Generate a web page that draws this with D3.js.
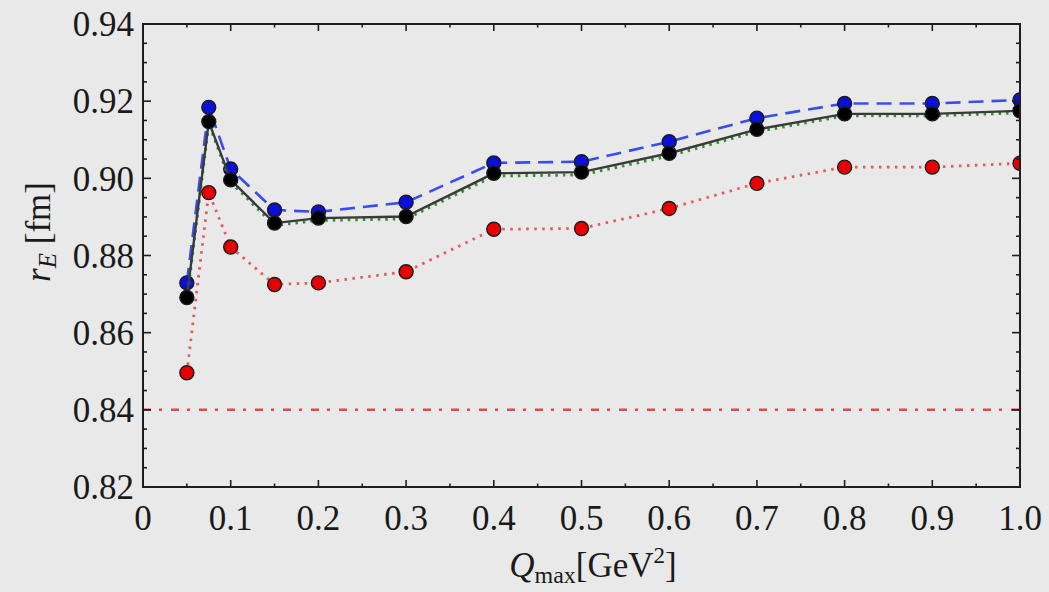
<!DOCTYPE html>
<html>
<head>
<meta charset="utf-8">
<script src="https://cdn.jsdelivr.net/npm/d3@7"></script>
<style>
  html, body { margin: 0; padding: 0; background: #e8e9e8; }
  svg { display: block; }
  .tick-label { font-family: "Liberation Serif", serif; font-size: 35px; fill: #1a1a1a; }
  .axis-title { font-family: "Liberation Serif", serif; font-size: 35px; fill: #1a1a1a; }
</style>
</head>
<body>
<div id="chart"></div>
<script>
// data
var qmax = [0.05, 0.075, 0.1, 0.15, 0.2, 0.3, 0.4, 0.5, 0.6, 0.7, 0.8, 0.9, 1.0];
var rBlue  = [0.8729, 0.9184, 0.9024, 0.8918, 0.8913, 0.8938, 0.9040, 0.9043, 0.9095, 0.9156, 0.9194, 0.9194, 0.9203];
var rBlack = [0.8691, 0.9147, 0.8996, 0.8884, 0.8897, 0.8901, 0.9013, 0.9016, 0.9065, 0.9127, 0.9167, 0.9167, 0.9175];
var rGreen = [0.8686, 0.9142, 0.8990, 0.8878, 0.8891, 0.8895, 0.9006, 0.9009, 0.9058, 0.9121, 0.9162, 0.9162, 0.9170];
var rRed   = [0.8496, 0.8963, 0.8822, 0.8725, 0.8729, 0.8758, 0.8868, 0.8870, 0.8922, 0.8987, 0.9029, 0.9029, 0.9039];
var protonRadius = 0.84;

var xTicks = [0, 0.1, 0.2, 0.3, 0.4, 0.5, 0.6, 0.7, 0.8, 0.9, 1.0];
var xMinor = [0.05, 0.15, 0.25, 0.35, 0.45, 0.55, 0.65, 0.75, 0.85, 0.95];
var yTicks = [0.82, 0.84, 0.86, 0.88, 0.90, 0.92, 0.94];
var yMinor = d3.range(0.82, 0.9401, 0.005);

// svg size
var svgWidth = 1049;
var svgHeight = 592;

var margin = { top: 24, right: 29, bottom: 105, left: 143 };
var width = svgWidth - margin.left - margin.right;
var height = svgHeight - margin.top - margin.bottom;

var svg = d3.select("#chart")
    .append("svg")
    .attr("width", svgWidth)
    .attr("height", svgHeight);

svg.append("rect")
    .attr("width", svgWidth)
    .attr("height", svgHeight)
    .attr("fill", "#e8e9e8");

var chartGroup = svg.append("g")
    .attr("transform", `translate(${margin.left}, ${margin.top})`);

// scales
var x = d3.scaleLinear().domain([0, 1]).range([0, width]);
var y = d3.scaleLinear().domain([0.82, 0.94]).range([height, 0]);

// clip to the axes box
chartGroup.append("clipPath")
    .attr("id", "plot-clip")
  .append("rect")
    .attr("width", width)
    .attr("height", height);

var plot = chartGroup.append("g").attr("clip-path", "url(#plot-clip)");

// horizontal reference line
plot.append("line")
    .attr("x1", x(0))
    .attr("x2", x(1))
    .attr("y1", y(protonRadius))
    .attr("y2", y(protonRadius))
    .attr("stroke", "#e84848")
    .attr("stroke-width", 2.5)
    .attr("stroke-dasharray", "8,8,3,9");

var line = d3.line()
    .x(d => x(d[0]))
    .y(d => y(d[1]));

function pairs(vals) {
  return qmax.map((q, i) => [q, vals[i]]);
}

function drawSeries(vals, color, width, dash, markerFill) {
  plot.append("path")
      .datum(pairs(vals))
      .attr("d", line)
      .attr("fill", "none")
      .attr("stroke", color)
      .attr("stroke-width", width)
      .attr("stroke-dasharray", dash);
  if (markerFill) {
    plot.append("g")
      .selectAll("circle")
      .data(pairs(vals))
      .enter()
      .append("circle")
      .attr("cx", d => x(d[0]))
      .attr("cy", d => y(d[1]))
      .attr("r", 7)
      .attr("fill", markerFill)
      .attr("stroke", "#1a1a1a")
      .attr("stroke-width", 1.4);
  }
}

drawSeries(rRed, "#e45a5a", 2.8, "2.5,5.5", "#e80000");
drawSeries(rBlue, "#3a4cf0", 2.6, "15,8", "#0a10d8");
drawSeries(rGreen, "#2f8f2f", 3, "2.5,5", null);
drawSeries(rBlack, "#3a3a3a", 2.4, null, "#000000");

// axes box
var axisColor = "#1e1e1e";
chartGroup.append("rect")
    .attr("width", width)
    .attr("height", height)
    .attr("fill", "none")
    .attr("stroke", axisColor)
    .attr("stroke-width", 2);

// ticks pointing inward
function ticks(values, len) {
  values.forEach(function(v) {
    var px = x(v);
    chartGroup.append("line").attr("x1", px).attr("x2", px).attr("y1", height).attr("y2", height - len)
      .attr("stroke", axisColor).attr("stroke-width", 1.6);
    chartGroup.append("line").attr("x1", px).attr("x2", px).attr("y1", 0).attr("y2", len)
      .attr("stroke", axisColor).attr("stroke-width", 1.6);
  });
}
ticks(xTicks, 7);
ticks(xMinor, 3.5);

yMinor.forEach(function(v) {
  var major = yTicks.some(t => Math.abs(t - v) < 1e-6);
  var len = major ? 8 : 4;
  var py = y(v);
  chartGroup.append("line").attr("x1", 0).attr("x2", len).attr("y1", py).attr("y2", py)
    .attr("stroke", axisColor).attr("stroke-width", 1.6);
  chartGroup.append("line").attr("x1", width).attr("x2", width - len).attr("y1", py).attr("y2", py)
    .attr("stroke", axisColor).attr("stroke-width", 1.6);
});

// tick labels
chartGroup.selectAll(".ytl")
    .data(yTicks)
    .enter()
    .append("text")
    .attr("class", "tick-label")
    .attr("x", -9)
    .attr("y", d => y(d))
    .attr("dy", "0.35em")
    .attr("text-anchor", "end")
    .text(d => d3.format(".2f")(d));

chartGroup.selectAll(".xtl")
    .data(xTicks)
    .enter()
    .append("text")
    .attr("class", "tick-label")
    .attr("x", d => x(d))
    .attr("y", height + 43)
    .attr("text-anchor", "middle")
    .text(d => d === 0 ? "0" : d3.format(".1f")(d));

// axis titles
var yTitle = svg.append("text")
    .attr("class", "axis-title")
    .attr("transform", "translate(50, 232) rotate(-90)")
    .attr("text-anchor", "middle");
yTitle.append("tspan").attr("font-style", "italic").text("r");
yTitle.append("tspan").attr("font-style", "italic").attr("font-size", "25px").attr("dy", "6").text("E");
yTitle.append("tspan").attr("dy", "-6").text(" [fm]");

var xTitle = svg.append("text")
    .attr("class", "axis-title")
    .attr("x", 593)
    .attr("y", 577)
    .attr("text-anchor", "middle");
xTitle.append("tspan").attr("font-style", "italic").text("Q");
xTitle.append("tspan").attr("font-size", "24px").attr("dy", "6").text("max");
xTitle.append("tspan").attr("dy", "-6").text("[GeV");
xTitle.append("tspan").attr("font-size", "23px").attr("dy", "-14").text("2");
xTitle.append("tspan").attr("dy", "14").text("]");
</script>
</body>
</html>
